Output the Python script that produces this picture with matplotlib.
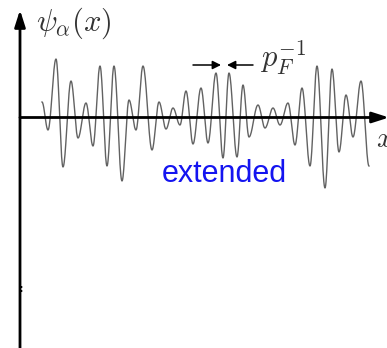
import numpy as np
import matplotlib
matplotlib.use("Agg")
import matplotlib.pyplot as plt

plt.rcParams['mathtext.fontset'] = 'cm'

# Wave extrema (position along x, amplitude of psi)
wave_x = [2.2, 2.8, 3.6, 4.3, 5.1, 5.8, 6.6, 7.3, 8.0, 8.7, 9.4, 10.2, 10.9, 11.6,
          12.3, 13.2, 13.9, 14.6, 15.3, 16.0, 16.6, 17.3, 18.1, 18.8, 19.6, 20.3,
          20.9, 21.7, 22.3, 22.9, 23.8, 24.5, 25.3, 26.0, 26.8, 27.5, 28.2, 29.0,
          29.7, 30.5, 31.2, 31.9, 32.6, 33.3, 34.1, 34.9]
wave_psi = [0.31, -0.25, 1.17, -0.99, 0.73, -0.41, 0.29, -0.57, 1.03, -0.97, 1.03,
            -1.27, 0.35, -0.25, 1.03, -0.65, 0.31, -0.23, 0.19, -0.15, 0.53, -0.53,
            0.59, -0.51, 0.89, -0.81, 0.89, -0.79, 0.65, -0.39, 0.25, -0.21, 0.19,
            -0.15, 0.29, -0.55, 0.59, -0.97, 1.03, -1.41, 0.97, -0.69, 0.45, -0.39,
            0.73, -0.97]

y_label = r'$\psi_\alpha(x)$'
x_label = r'$x$'
scale_label = r'$p_F^{-1}$'
state_label = 'extended'

fig = plt.figure(figsize=(3.87, 3.48), dpi=100)
ax = fig.add_axes([0, 0, 1, 1])
ax.set_xlim(-2.0, 36.7)
ax.set_ylim(-4.61, 2.35)
ax.axis('off')

# smooth curve through extrema (half-cosine between neighbours)
xs, ys = [], []
for i in range(len(wave_x) - 1):
    t = np.linspace(0, 1, 20, endpoint=False)
    s = (1 - np.cos(np.pi * t)) / 2
    xs.append(wave_x[i] + (wave_x[i + 1] - wave_x[i]) * t)
    ys.append(wave_psi[i] + (wave_psi[i + 1] - wave_psi[i]) * s)
xs.append([wave_x[-1]]); ys.append([wave_psi[-1]])
ax.plot(np.concatenate(xs), np.concatenate(ys), color='#626262', lw=1.0, zorder=2)

# axes arrows
ax.annotate('', xy=(0, 2.15), xytext=(0, -4.8),
            arrowprops=dict(arrowstyle='-|>,head_length=0.5,head_width=0.16',
                            mutation_scale=20, lw=2.0, color='black', shrinkA=0, shrinkB=0),
            annotation_clip=False, zorder=3)
ax.annotate('', xy=(36.9, 0), xytext=(0, 0),
            arrowprops=dict(arrowstyle='-|>,head_length=0.5,head_width=0.16',
                            mutation_scale=20, lw=2.0, color='black', shrinkA=0, shrinkB=0),
            annotation_clip=False, zorder=3)

# p_F^{-1} markers
ax.annotate('', xy=(20.1, 1.05), xytext=(17.3, 1.05),
            arrowprops=dict(arrowstyle='-|>,head_length=0.5,head_width=0.25',
                            mutation_scale=10, lw=1.1, color='black', shrinkA=0, shrinkB=0))
ax.annotate('', xy=(20.7, 1.05), xytext=(23.3, 1.05),
            arrowprops=dict(arrowstyle='-|>,head_length=0.5,head_width=0.25',
                            mutation_scale=10, lw=1.1, color='black', shrinkA=0, shrinkB=0))

ax.text(1.6, 1.89, y_label, fontsize=22, color='#333333', ha='left', va='center')
ax.text(24.0, 1.01, scale_label, fontsize=22, color='#333333', ha='left', va='baseline')
ax.text(35.6, -0.43, x_label, fontsize=21, color='#333333', ha='left', va='center')
ax.text(14.2, -1.29, state_label, fontsize=22, color='#1414f0', family='Liberation Sans',
        ha='left', va='baseline')
ax.text(0.15, -3.43, ':', fontsize=8, fontweight='bold', color='black', ha='center', va='center')

fig.savefig('out.png', dpi=100)
